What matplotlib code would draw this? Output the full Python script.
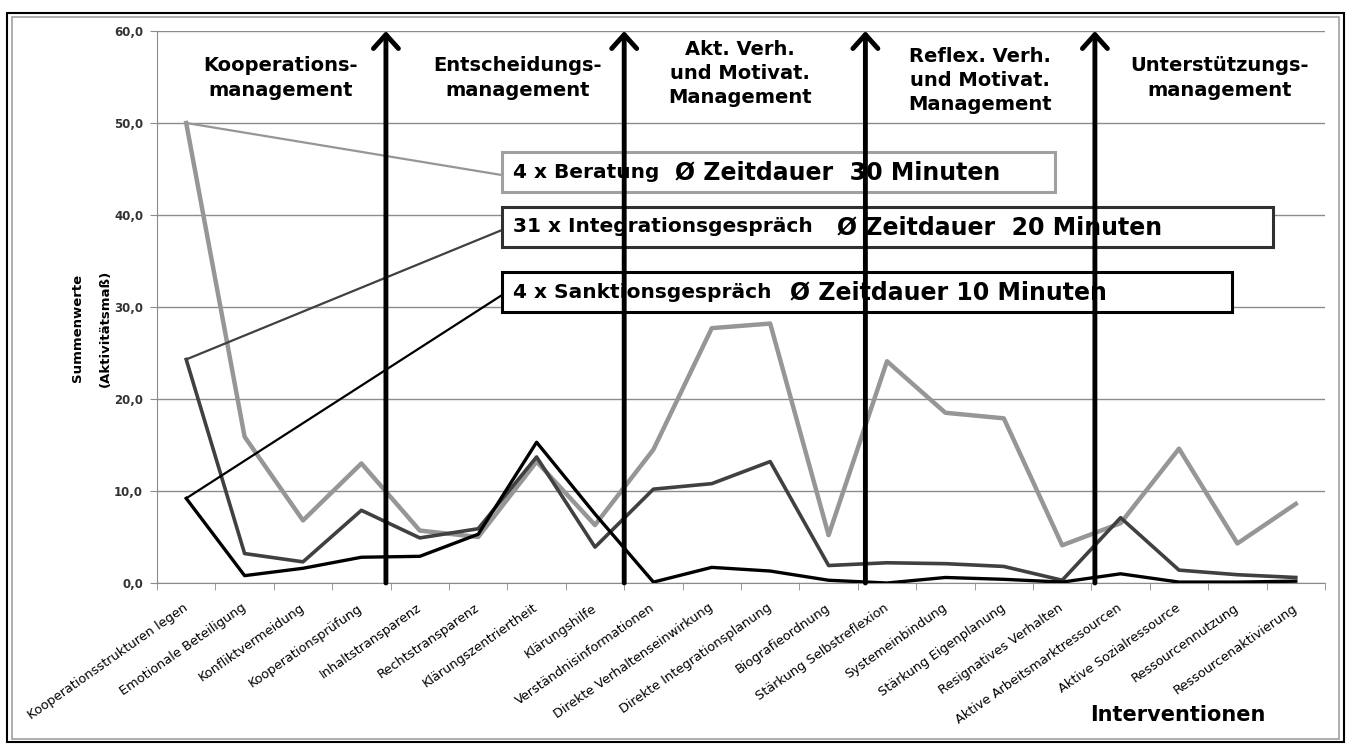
import matplotlib
matplotlib.use('Agg')
import matplotlib.pyplot as plt
from matplotlib.patches import Rectangle

# Data
categories = ['Kooperationsstrukturen legen', 'Emotionale Beteiligung', 'Konfliktvermeidung',
              'Kooperationsprüfung', 'Inhaltstransparenz', 'Rechtstransparenz',
              'Klärungszentriertheit', 'Klärungshilfe', 'Verständnisinformationen',
              'Direkte Verhaltenseinwirkung', 'Direkte Integrationsplanung', 'Biografieordnung',
              'Stärkung Selbstreflexion', 'Systemeinbindung', 'Stärkung Eigenplanung',
              'Resignatives Verhalten', 'Aktive Arbeitsmarktressourcen', 'Aktive Sozialressource',
              'Ressourcennutzung', 'Ressourcenaktivierung']
beratung = [50.0, 15.9, 6.8, 13.0, 5.7, 5.0, 13.2, 6.3, 14.5, 27.7,
            28.2, 5.2, 24.1, 18.5, 17.9, 4.1, 6.5, 14.6, 4.3, 8.6]
integration = [24.3, 3.2, 2.3, 7.9, 4.9, 5.9, 13.7, 3.9, 10.2, 10.8,
               13.2, 1.9, 2.2, 2.1, 1.8, 0.3, 7.1, 1.4, 0.9, 0.6]
sanktion = [9.2, 0.8, 1.6, 2.8, 2.9, 5.3, 15.3, 7.5, 0.1, 1.7,
            1.3, 0.3, 0.0, 0.6, 0.4, 0.1, 1.0, 0.1, 0.1, 0.2]
yticks = [0, 10, 20, 30, 40, 50, 60]
ytick_labels = ['0,0', '10,0', '20,0', '30,0', '40,0', '50,0', '60,0']

sections = ['Kooperations-\nmanagement', 'Entscheidungs-\nmanagement',
            'Akt. Verh.\nund Motivat.\nManagement', 'Reflex. Verh.\nund Motivat.\nManagement',
            'Unterstützungs-\nmanagement']
section_x = [1.61, 5.68, 9.48, 13.59, 17.70]
section_y = [54.9, 54.9, 55.4, 54.6, 54.9]
divider_x = [3.42, 7.5, 11.63, 15.56]

box_prefix = ['4 x Beratung', '31 x Integrationsgespräch', '4 x Sanktionsgespräch']
box_suffix = ['Ø Zeitdauer  30 Minuten', 'Ø Zeitdauer  20 Minuten', 'Ø Zeitdauer 10 Minuten']

font = 'DejaVu Sans'
light = '#969696'
dark = '#404040'

fig = plt.figure(figsize=(13.46, 7.44), dpi=100)
ax = fig.add_axes([157/1346, 1 - 583/744, 1168/1346, 552/744])

x = list(range(len(categories)))
ax.plot(x, beratung, color=light, lw=3.2, zorder=3)
ax.plot(x, integration, color=dark, lw=2.6, zorder=4)
ax.plot(x, sanktion, color='black', lw=2.4, zorder=5)

ax.set_xlim(-0.5, len(categories) - 0.5)
ax.set_ylim(0, 60)
ax.set_yticks(yticks)
ax.set_yticklabels(ytick_labels, fontsize=8.5, fontweight='bold', family=font, color='#333333')
ax.yaxis.grid(True, color='#8c8c8c', lw=1.0)
ax.set_axisbelow(True)
ax.tick_params(axis='y', length=5, color='#8c8c8c', pad=5)

ax.set_xticks(x)
ax.set_xticklabels(categories, rotation=35, ha='right', va='center', rotation_mode='anchor',
                   fontsize=9.3, family=font)
ax.set_xticks([i - 0.5 for i in range(len(categories) + 1)], minor=True)
ax.tick_params(axis='x', which='major', length=0, pad=17)
ax.tick_params(axis='x', which='minor', length=5, color='#8c8c8c')

for s in ['top', 'right']:
    ax.spines[s].set_visible(False)
for s in ['left', 'bottom']:
    ax.spines[s].set_color('#8c8c8c')

# section headers
for sx, sy, name in zip(section_x, section_y, sections):
    ax.text(sx, sy, name, ha='center', va='center', fontsize=14, fontweight='bold',
            family=font, linespacing=1.35, zorder=6)

# callout boxes
box_x0 = 0.2954
box_x1 = [0.7688, 0.9555, 0.9204]
box_y0 = [0.7083, 0.6087, 0.4909]
box_h = 0.0725
box_color = ['#a0a0a0', '#303030', 'black']
suffix_x = [0.4435, 0.5822, 0.5419]
attach_y = [0.7390, 0.6395, 0.5217]
series = [beratung, integration, sanktion]
leader_color = [light, dark, 'black']

for i in range(3):
    ax.add_patch(Rectangle((box_x0, box_y0[i]), box_x1[i] - box_x0, box_h, transform=ax.transAxes,
                           facecolor='white', edgecolor=box_color[i], lw=2.2, zorder=7, clip_on=False))
    yc = box_y0[i] + box_h / 2
    ax.text(0.3048, yc, box_prefix[i], transform=ax.transAxes, ha='left', va='center',
            fontsize=14.5, fontweight='bold', family=font, zorder=8)
    ax.text(suffix_x[i], yc, box_suffix[i], transform=ax.transAxes, ha='left', va='center',
            fontsize=17, fontweight='bold', family=font, zorder=8)
    ax.annotate('', xy=(0, series[i][0]), xycoords='data',
                xytext=(box_x0, attach_y[i]), textcoords='axes fraction',
                arrowprops=dict(arrowstyle='-', color=leader_color[i], lw=1.6,
                                shrinkA=0, shrinkB=0), zorder=6)

# section divider arrows
for dx in divider_x:
    ax.annotate('', xy=(dx, 60), xytext=(dx, 0),
                arrowprops=dict(arrowstyle='->,head_length=1.0,head_width=0.9', color='black',
                                lw=3.5, shrinkA=0, shrinkB=0), zorder=9)

fig.text(91/1346, 1 - 328/744, 'Summenwerte\n(Aktivitätsmaß)', rotation=90, ha='center', va='center',
         fontsize=9.5, fontweight='bold', family=font, linespacing=2.5)
fig.text(1178/1346, 1 - 715/744, 'Interventionen', ha='center', va='center',
         fontsize=15, fontweight='bold', family=font)

# outer frame
fig.add_artist(Rectangle((7/1346, 2/744), 1337/1346, 729/744, transform=fig.transFigure,
                         fill=False, edgecolor='black', lw=1.5))
fig.add_artist(Rectangle((12/1346, 5/744), 1327/1346, 722/744, transform=fig.transFigure,
                         fill=False, edgecolor='#a0a0a0', lw=1.2))

fig.savefig('out.png', dpi=100)
